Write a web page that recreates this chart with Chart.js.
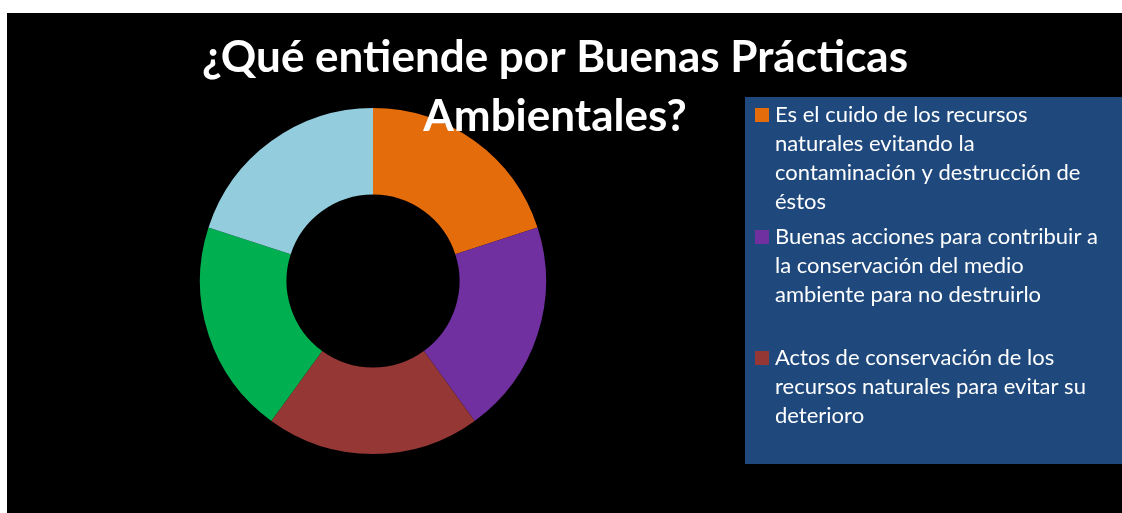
<!DOCTYPE html>
<html>
<head>
<meta charset="utf-8">
<script src="https://cdn.jsdelivr.net/npm/chart.js@4"></script>
<style>
  html, body { margin: 0; padding: 0; background: #fff; }
  #wrap { position: absolute; left: 7px; top: 13px; width: 1115px; height: 500px; background: #000; }
</style>
</head>
<body>
<div id="wrap"><canvas id="donutChart"></canvas></div>
<script>
// Data
const titleLines = ['¿Qué entiende por Buenas Prácticas', 'Ambientales?'];
const categories = [
    ['Es el cuido de los recursos', 'naturales evitando la', 'contaminación y destrucción de', 'éstos'],
    ['Buenas acciones para contribuir a', 'la conservación del medio', 'ambiente para no destruirlo'],
    ['Actos de conservación de los', 'recursos naturales para evitar su', 'deterioro'],
    ['Otra respuesta'],
    ['No sabe']
];
const values = [1, 1, 1, 1, 1];
const sliceColors = ['#E46C0A', '#7030A0', '#953735', '#00B050', '#93CDDD'];

// Title drawn on top of the doughnut
const titlePlugin = {
    id: 'overTitle',
    afterDraw(chart) {
        const ctx = chart.ctx;
        ctx.save();
        ctx.fillStyle = '#fff';
        ctx.font = 'bold 44px Lato';
        ctx.textAlign = 'center';
        ctx.textBaseline = 'alphabetic';
        ctx.fillText(titleLines[0], 548, 59);
        ctx.fillText(titleLines[1], 548, 118);
        ctx.restore();
    }
};

// Legend box (only the first three entries fit, like the original)
const boxLegend = {
    id: 'boxLegend',
    afterDraw(chart) {
        const ctx = chart.ctx;
        const ds = chart.data.datasets[0];
        const itemTops = [102, 224, 345];
        ctx.save();
        ctx.fillStyle = '#1F497D';
        ctx.fillRect(738, 84, 377, 367);
        ctx.font = '22px Lato';
        ctx.textBaseline = 'middle';
        itemTops.forEach((y, i) => {
            ctx.fillStyle = ds.backgroundColor[i];
            ctx.fillRect(748, y - 7, 14, 14);
            ctx.fillStyle = '#fff';
            chart.data.labels[i].forEach((line, j) => {
                ctx.fillText(line, 768, y + j * 29);
            });
        });
        ctx.restore();
    }
};

const ctx = document.getElementById('donutChart').getContext('2d');
new Chart(ctx, {
    type: 'doughnut',
    data: {
        labels: categories,
        datasets: [{
            data: values,
            backgroundColor: sliceColors,
            borderWidth: 0
        }]
    },
    options: {
        responsive: true,
        maintainAspectRatio: false,
        animation: false,
        cutout: '50%',
        layout: { padding: { left: 193, right: 576, top: 95, bottom: 59 } },
        plugins: {
            legend: { display: false },
            title: { display: false },
            tooltip: { enabled: false }
        }
    },
    plugins: [titlePlugin, boxLegend]
});
</script>
</body>
</html>
